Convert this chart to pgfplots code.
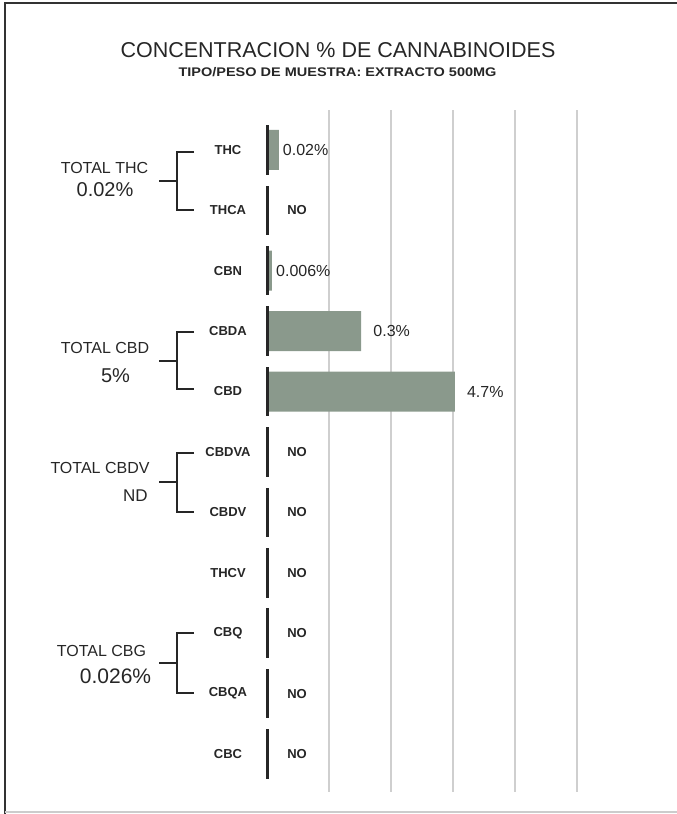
\documentclass[border=0pt]{standalone}
\usepackage{graphicx}
\usepackage{pgfplots}
\pgfplotsset{compat=1.18}
\usepackage{fontspec}
\setmainfont{Liberation Sans}

\definecolor{barfill}{HTML}{8A998C}
\definecolor{ink}{HTML}{262626}
\definecolor{gridc}{HTML}{CFCFCF}

\tikzset{
    bracket/.style = {ink, line width=1.8pt},
    grouptxt/.style = {text=ink, inner sep=0pt, font=\fontsize{16}{16}\selectfont},
    groupval/.style = {text=ink, inner sep=0pt, font=\fontsize{20}{20}\selectfont}
}

\begin{document}
\begin{tikzpicture}
    % page frame (1pt = 1px of the reference)
    \path[use as bounding box] (0pt,0pt) rectangle (677pt,-814pt);
    \draw[black!80, line width=2.4pt] (5pt,-814pt) -- (5pt,-3pt) -- (677pt,-3pt);
    \draw[black!20, line width=1.5pt] (5pt,-812pt) -- (677pt,-812pt);

    \node[text=ink, font=\fontsize{21.5}{22}\selectfont] at (338pt,-50.5pt)
        {CONCENTRACION \% DE CANNABINOIDES};
    \node[text=ink, font=\fontsize{12.5}{13}\selectfont\bfseries] at (337.5pt,-72.5pt)
        {\scalebox{1.16}[1]{TIPO/PESO DE MUESTRA: EXTRACTO 500MG}};

    \begin{axis}[
        at={(267pt,-792pt)}, anchor=south west,
        scale only axis, width=310pt, height=682pt,
        xmin=0, xmax=5,
        ymin=0.34, ymax=11.63, y dir=reverse,
        axis line style={draw=none},
        xtick={1,2,3,4,5}, xticklabels={},
        xmajorgrids, grid style={gridc, line width=1.6pt},
        ytick={1,...,11},
        yticklabels={THC,THCA,CBN,CBDA,CBD,CBDVA,CBDV,THCV,CBQ,CBQA,CBC},
        major tick length=0pt, tick style={draw=none},
        yticklabel style={font=\fontsize{13}{13}\selectfont\bfseries, text=ink, anchor=center, xshift=-39pt},
        clip=false,
    ]
        % small bars
        \addplot[xbar, bar width=40pt, bar shift=0pt, fill=barfill, draw=none,
            point meta=explicit symbolic, nodes near coords,
            nodes near coords style={anchor=west, inner sep=0pt, xshift=4pt, text=ink, font=\fontsize{16}{16}\selectfont}]
            coordinates {(0.19,1) [0.02\%] (0.08,3) [0.006\%]};
        % large bars
        \addplot[xbar, bar width=40pt, bar shift=0pt, fill=barfill, draw=none,
            point meta=explicit symbolic, nodes near coords,
            nodes near coords style={anchor=west, inner sep=0pt, xshift=12pt, text=ink, font=\fontsize{16}{16}\selectfont}]
            coordinates {(1.52,4) [0.3\%] (3.03,5) [4.7\%]};
        % not detected
        \addplot[only marks, mark=none,
            point meta=explicit symbolic, nodes near coords,
            nodes near coords style={anchor=center, inner sep=0pt, text=ink, font=\fontsize{13}{13}\selectfont\bfseries}]
            coordinates {(0.484,2) [NO] (0.484,6) [NO] (0.484,7) [NO] (0.484,8) [NO]
                         (0.484,9) [NO] (0.484,10) [NO] (0.484,11) [NO]};
        % broken baseline
        \addplot[draw=none, mark=none,
            error bars/.cd, y dir=both, y fixed=0.41, error mark=none,
            error bar style={draw=ink, line width=3pt}]
            coordinates {(0,1) (0,2) (0,3) (0,4) (0,5) (0,6) (0,7) (0,8) (0,9) (0,10) (0,11)};
    \end{axis}

    % group brackets
    \draw[bracket] (159pt,-181pt) -- (177pt,-181pt);
    \draw[bracket] (194pt,-152pt) -- (177pt,-152pt) -- (177pt,-210pt) -- (194pt,-210pt);
    \node[grouptxt] at (104.5pt,-168pt) {TOTAL THC};
    \node[groupval] at (105pt,-190pt) {0.02\%};

    \draw[bracket] (159pt,-361pt) -- (177pt,-361pt);
    \draw[bracket] (194pt,-332pt) -- (177pt,-332pt) -- (177pt,-389pt) -- (194pt,-389pt);
    \node[grouptxt] at (105pt,-348pt) {TOTAL CBD};
    \node[groupval] at (115.5pt,-376pt) {5\%};

    \draw[bracket] (159pt,-482pt) -- (177pt,-482pt);
    \draw[bracket] (194pt,-453pt) -- (177pt,-453pt) -- (177pt,-512pt) -- (194pt,-512pt);
    \node[grouptxt] at (100pt,-467.5pt) {TOTAL CBDV};
    \node[grouptxt, font=\fontsize{17}{17}\selectfont] at (135.5pt,-496pt) {ND};

    \draw[bracket] (159pt,-663pt) -- (177pt,-663pt);
    \draw[bracket] (194pt,-633pt) -- (177pt,-633pt) -- (177pt,-693pt) -- (194pt,-693pt);
    \node[grouptxt] at (101.5pt,-650.5pt) {TOTAL CBG};
    \node[groupval, font=\fontsize{21}{21}\selectfont] at (115.5pt,-676pt) {0.026\%};
\end{tikzpicture}
\end{document}
